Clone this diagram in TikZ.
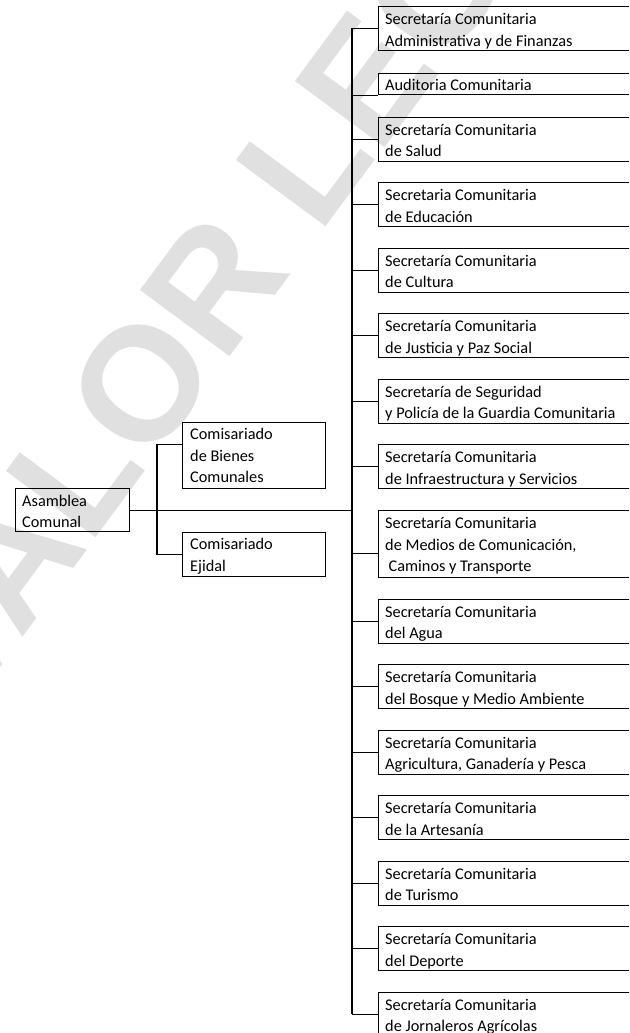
\documentclass[tikz,border=0pt]{standalone}
\usepackage{fontspec}
\setmainfont{Carlito}
\newfontfamily\wmfont{Liberation Sans}
\newcommand\mystrut{\rule{0pt}{14pt}}
\begin{document}
\begin{tikzpicture}[x=1pt,y=-1pt,
  bx/.style={draw=black, line width=1.1pt, inner sep=0pt, anchor=north west, minimum height=44pt},
  rb/.style={bx, minimum width=320pt},
  lb/.style={bx, minimum width=143pt},
  tx/.style={inner sep=0pt, anchor=north west, align=left, font=\fontsize{16.3}{21.5}\selectfont},
  ln/.style={draw=black, line width=1.1pt},
  wm/.style={font=\wmfont\bfseries\fontsize{162}{162}\selectfont, text=black!12, rotate=53.5}]
\useasboundingbox (0,0) rectangle (629,1033);
\clip (0,0) rectangle (629,1033);

% watermark
\node[wm] (water) at (260,223) {VALOR LEGAL};

% left boxes
\node[bx, minimum width=114pt, minimum height=43pt] (as) at (15,488) {};
\node[tx] (ast) at ([xshift=7pt,yshift=-4pt]as.north west) {\mystrut Asamblea\\Comunal};
\node[lb, minimum height=66pt] (b1) at (182,422) {};
\node[tx] (b1t) at ([xshift=8pt,yshift=-3.5pt]b1.north west) {\mystrut Comisariado\\de Bienes\\Comunales};
\node[lb] (e1) at (182,531.5) {};
\node[tx] (e1t) at ([xshift=8pt,yshift=-4pt]e1.north west) {\mystrut Comisariado\\Ejidal};

% right boxes
\node[rb] (r1) at (378,6) {};
\node[tx] (r1t) at ([xshift=7pt,yshift=-4.5pt]r1.north west) {\mystrut Secretaría Comunitaria\\Administrativa y de Finanzas};
\node[rb, minimum height=21pt] (r2) at (378,73) {};
\node[tx] (r2t) at ([xshift=7pt,yshift=-3pt]r2.north west) {\mystrut Auditoria Comunitaria};
\node[rb] (r3) at (378,116.5) {};
\node[tx] (r3t) at ([xshift=7pt,yshift=-4.5pt]r3.north west) {\mystrut Secretaría Comunitaria\\de Salud};
\node[rb] (r4) at (378,182) {};
\node[tx] (r4t) at ([xshift=7pt,yshift=-4.5pt]r4.north west) {\mystrut Secretaria Comunitaria\\de Educación};
\node[rb] (r5) at (378,247.5) {};
\node[tx] (r5t) at ([xshift=7pt,yshift=-4.5pt]r5.north west) {\mystrut Secretaría Comunitaria\\de Cultura};
\node[rb] (r6) at (378,313) {};
\node[tx] (r6t) at ([xshift=7pt,yshift=-4.5pt]r6.north west) {\mystrut Secretaría Comunitaria\\de Justicia y Paz Social};
\node[rb] (r7) at (378,378.5) {};
\node[tx] (r7t) at ([xshift=7pt,yshift=-4.5pt]r7.north west) {\mystrut Secretaría de Seguridad\\y Policía de la Guardia Comunitaria};
\node[rb] (r8) at (378,444) {};
\node[tx] (r8t) at ([xshift=7pt,yshift=-4.5pt]r8.north west) {\mystrut Secretaría Comunitaria\\de Infraestructura y Servicios};
\node[rb, minimum height=67pt] (r9) at (378,510) {};
\node[tx] (r9t) at ([xshift=7pt,yshift=-4.5pt]r9.north west) {\mystrut Secretaría Comunitaria\\de Medios de Comunicación,\\\hspace*{3.5pt}Caminos y Transporte};
\node[rb] (r10) at (378,598.5) {};
\node[tx] (r10t) at ([xshift=7pt,yshift=-4.5pt]r10.north west) {\mystrut Secretaría Comunitaria\\del Agua};
\node[rb] (r11) at (378,664) {};
\node[tx] (r11t) at ([xshift=7pt,yshift=-4.5pt]r11.north west) {\mystrut Secretaría Comunitaria\\del Bosque y Medio Ambiente};
\node[rb] (r12) at (378,729.5) {};
\node[tx] (r12t) at ([xshift=7pt,yshift=-4.5pt]r12.north west) {\mystrut Secretaría Comunitaria\\Agricultura, Ganadería y Pesca};
\node[rb] (r13) at (378,795) {};
\node[tx] (r13t) at ([xshift=7pt,yshift=-4.5pt]r13.north west) {\mystrut Secretaría Comunitaria\\de la Artesanía};
\node[rb] (r14) at (378,860.5) {};
\node[tx] (r14t) at ([xshift=7pt,yshift=-4.5pt]r14.north west) {\mystrut Secretaría Comunitaria\\de Turismo};
\node[rb] (r15) at (378,926) {};
\node[tx] (r15t) at ([xshift=7pt,yshift=-4.5pt]r15.north west) {\mystrut Secretaría Comunitaria\\del Deporte};
\node[rb] (r16) at (378,991.5) {};
\node[tx] (r16t) at ([xshift=7pt,yshift=-4.5pt]r16.north west) {\mystrut Secretaría Comunitaria\\de Jornaleros Agrícolas};

% spine
\coordinate (sT) at (352,28);
\coordinate (sB) at (352,1013.5);
\draw[ln] (sT) -- (sB);
\draw[ln] (r1.west -| sT) -- (r1.west);
\draw[ln] (r2.south west -| sT) -- (r2.south west);
\foreach \k in {3,4,5,6,7,8,10,11,12,13,14,15,16}{
  \draw[ln] (r\k.west -| sT) -- (r\k.west);
}
\coordinate (c9) at ([yshift=-9.5pt]r9.west);
\draw[ln] (c9 -| sT) -- (c9);

% main line and branch
\draw[ln] (as.east) -- (as.east -| sT);
\coordinate (cb) at ([yshift=11pt]b1.west);
\coordinate (br) at (157,0);
\draw[ln] (cb) -| (br |- e1.west) -- (e1.west);
\end{tikzpicture}
\end{document}
